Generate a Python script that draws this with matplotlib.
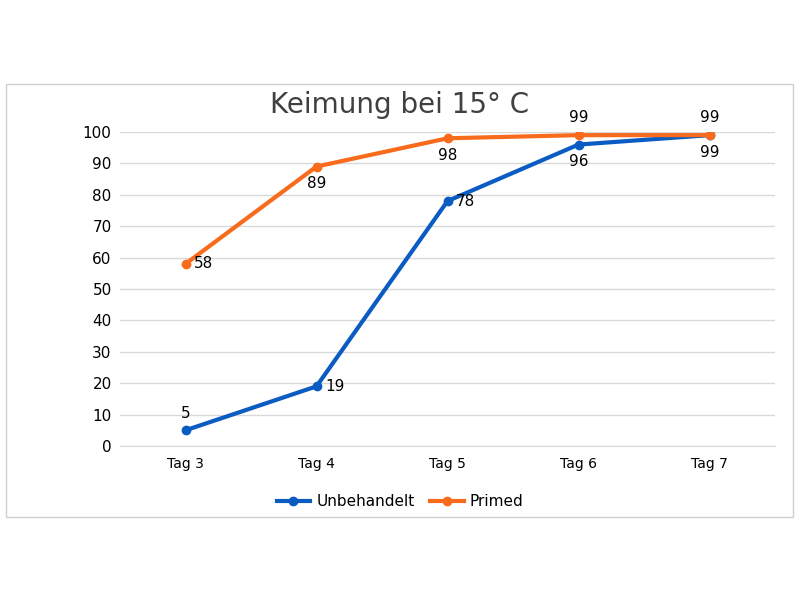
import matplotlib as mp
mp.use('Agg')
import matplotlib.pyplot as plt
from matplotlib.patches import Rectangle

tage = ["Tag 3", "Tag 4", "Tag 5", "Tag 6", "Tag 7"]
unbehandelt = [5, 19, 78, 96, 99]
primed = [58, 89, 98, 99, 99]
# label placement: r = right, a = above, b = below
pos_unbeh = ["a", "r", "r", "b", "b"]
pos_primed = ["r", "b", "b", "a", "a"]

blue = "#0a5cc2"
orange = "#f96b1c"

fig = plt.figure(figsize=(8, 6), dpi=100)
fig.patches.append(Rectangle((6/800, 1-517/600), 787/800, 433/600, transform=fig.transFigure,
                             fill=False, edgecolor="#d0d0d0", lw=1))
ax = fig.add_axes([120/800, 1-446/600, 655/800, 314/600])

x = range(len(tage))
ax.plot(x, unbehandelt, color=blue, lw=3, marker="o", ms=6, label="Unbehandelt", zorder=3)
ax.plot(x, primed, color=orange, lw=3, marker="o", ms=6, label="Primed", zorder=3)

def labels(vals, poss):
    for i, (v, p) in enumerate(zip(vals, poss)):
        if p == "r":
            ax.annotate(str(v), (i, v), xytext=(6, 0), textcoords="offset points", va="center", ha="left", fontsize=11)
        elif p == "a":
            ax.annotate(str(v), (i, v), xytext=(0, 7), textcoords="offset points", va="bottom", ha="center", fontsize=11)
        else:
            ax.annotate(str(v), (i, v), xytext=(0, -7), textcoords="offset points", va="top", ha="center", fontsize=11)

labels(unbehandelt, pos_unbeh)
labels(primed, pos_primed)

ax.set_xlim(-0.5, 4.5)
ax.set_ylim(0, 100)
ax.set_yticks(range(0, 101, 10))
ax.set_xticks(list(x))
ax.set_xticklabels(tage)
ax.grid(axis="y", color="#d9d9d9", lw=1)
ax.set_axisbelow(True)
for s in ["top", "right", "left"]:
    ax.spines[s].set_visible(False)
ax.spines["bottom"].set_color("#d9d9d9")
ax.tick_params(length=0, labelsize=11, pad=6)
ax.tick_params(axis="x", labelsize=10, pad=8)

fig.text(0.5, 1-105/600, "Keimung bei 15° C", ha="center", va="center", fontsize=20, color="#404040")
fig.legend(loc="center", bbox_to_anchor=(0.5, 1-502/600), ncol=2, frameon=False, fontsize=11,
           handlelength=2.2, columnspacing=1.0, handletextpad=0.4)

fig.savefig("out.png")
